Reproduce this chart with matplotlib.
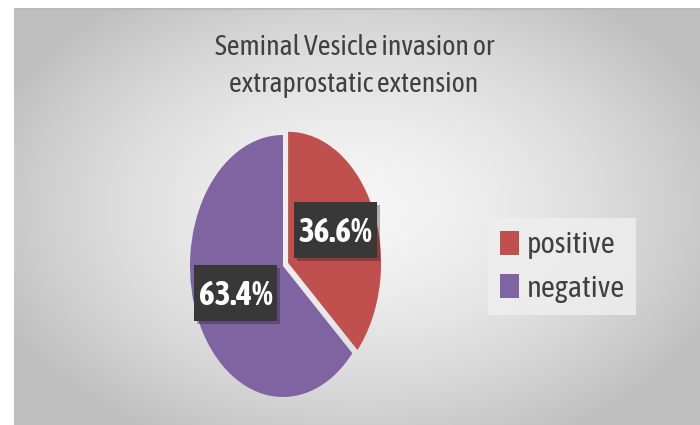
import numpy as np
import matplotlib
matplotlib.use("Agg")
import matplotlib.pyplot as plt
from matplotlib import font_manager
from matplotlib.font_manager import FontProperties
from matplotlib.textpath import TextPath
from matplotlib.patches import Rectangle
from matplotlib.transforms import IdentityTransform
import matplotlib.patheffects as pe

title_lines = ["Seminal Vesicle invasion or", "extraprostatic extension"]
categories = ["positive", "negative"]
values = [36.6, 63.4]
colors = ["#C0504D", "#8064A2"]

DPI = 100
names = {f.name for f in font_manager.fontManager.ttflist}
cands = ["Fira Sans Extra Condensed", "PT Sans Narrow", "Ubuntu Condensed", "Open Sans Condensed",
         "Roboto Condensed", "Asap Condensed", "Encode Sans Condensed", "Sofia Sans Condensed",
         "Sofia Sans Extra Condensed", "IBM Plex Sans Condensed", "Archivo Narrow",
         "Fira Sans Condensed", "Barlow Semi Condensed", "Barlow Condensed", "Carlito", "Lato"]
avail = [c for c in cands if c in names] or ["DejaVu Sans"]


def ink(s, fam, weight="normal"):
    ext = TextPath((0, 0), s, size=100, prop=FontProperties(family=fam, weight=weight)).get_extents()
    return ext.width, ext.height


def ratio(fam):
    w, _ = ink(title_lines[0], fam)
    _, h = ink("H", fam)
    return w / h


fam = min(avail, key=lambda f: abs(np.log(ratio(f) / 14.0)))
plt.rcParams['font.family'] = [fam, 'DejaVu Sans']


def fit(s, tw, href, th, weight="normal"):
    w, _ = ink(s, fam, weight)
    _, h = ink(href, fam, weight)
    k = DPI / 72 / 100
    sw = tw / (w * k)
    sh = th / (h * k)
    return np.sqrt(sw * sh)


W, H = 700, 425
fig = plt.figure(figsize=(W / DPI, H / DPI), dpi=DPI)
fig.patch.set_facecolor("white")

# background gradient panel
bx0, by0 = 14, 8
bg = fig.add_axes([bx0 / W, 0, (W - bx0) / W, (H - by0) / H])
ny, nx = 200, 300
yy, xx = np.mgrid[0:ny, 0:nx]
r = np.sqrt(((xx - nx * 0.5) / (nx * 0.5)) ** 2 + ((yy - ny * 0.48) / (ny * 0.55)) ** 2)
val = np.clip(0.96 - 0.17 * r ** 1.6, 0.75, 1)
img = np.dstack([val, val, val])
bg.imshow(img, aspect="auto", extent=[0, 1, 0, 1], interpolation="bilinear")
bg.plot([0, 1], [0.997, 0.997], color="#b8b8b8", lw=1.2)
bg.set_xlim(0, 1); bg.set_ylim(0, 1)
bg.axis("off")

# title
ts = fit(title_lines[0], 280, "S", 20)
fig.text(355 / W, 1 - 55 / H, title_lines[0], ha="center", va="baseline",
         fontsize=ts, color="#404040")
fig.text(354 / W, 1 - 92 / H, title_lines[1], ha="center", va="baseline",
         fontsize=ts, color="#404040")

# pie axes (elliptical pie)
cx, cy, rx, ry = 283, 266, 93, 131
ax = fig.add_axes([(cx - rx) / W, (H - cy - ry) / H, 2 * rx / W, 2 * ry / H])
ls = fit("36.6%", 72, "3", 24, "bold")
wedges, texts, autotexts = ax.pie(values, colors=colors, startangle=90, counterclock=False,
                                  explode=[0.06, 0], autopct="%.1f%%", pctdistance=0.56,
                                  textprops=dict(color="white", fontsize=ls, fontweight="bold",
                                                 zorder=5),
                                  wedgeprops=dict(linewidth=0))
ax.set_aspect("auto")
ax.set_xlim(-1, 1)
ax.set_ylim(-1, 1)
ax.axis("off")
for t in autotexts:
    px, py = ax.transData.transform(t.get_position())
    bw, bh = 83, 56
    rect = Rectangle((px - bw / 2, py + 3 - bh / 2), bw, bh, transform=IdentityTransform(),
                     facecolor="#383838", edgecolor="none", zorder=4, clip_on=False)
    rect.set_path_effects([pe.SimplePatchShadow(offset=(2, -2), alpha=0.3), pe.Normal()])
    ax.add_patch(rect)

# legend
lg = fit("positive", 91, "x", 15)
leg = fig.legend(wedges, categories, loc="upper left", bbox_to_anchor=(488 / W, 1 - 218 / H),
                 frameon=True, fontsize=lg, handlelength=0.62, handleheight=0.85,
                 handletextpad=0.22, labelspacing=0.48, borderpad=0.4, borderaxespad=0)
leg.get_frame().set_facecolor("#eeeeee")
leg.get_frame().set_edgecolor("none")
leg.get_frame().set_alpha(0.85)
leg.get_frame().set_boxstyle("square", pad=0)
for t in leg.get_texts():
    t.set_color("#404040")

fig.savefig("out.png", dpi=DPI)
